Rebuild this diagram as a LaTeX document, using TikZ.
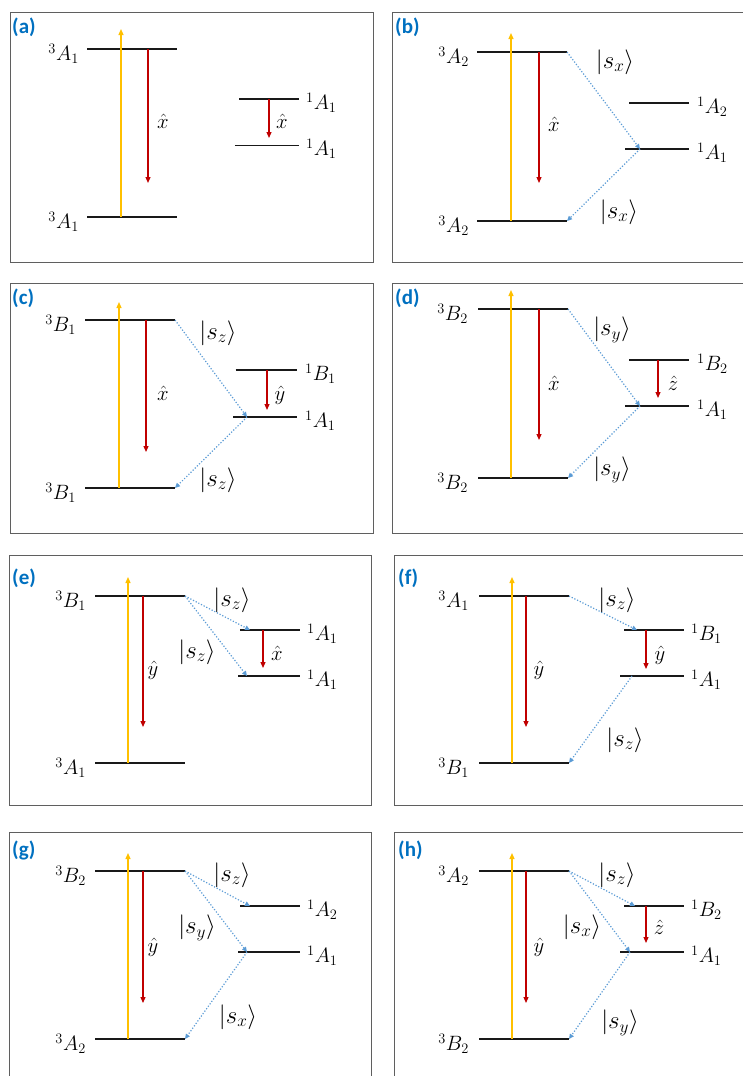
\documentclass[tikz,border=0pt]{standalone}
\usepackage{fontspec}
\usepackage{amsmath}
\usetikzlibrary{arrows.meta, positioning}
\newfontfamily\tagfont{Carlito}
\definecolor{excorange}{HTML}{FFC000}
\definecolor{emired}{HTML}{C00000}
\definecolor{iscblue}{HTML}{5B9BD5}
\definecolor{tagblue}{HTML}{0070C0}
\definecolor{framegray}{HTML}{5F5F5F}
\newcommand{\statesize}{\fontsize{21}{24}\selectfont}
\newcommand{\ketsize}{\fontsize{23}{26}\selectfont}

\begin{document}
\begin{tikzpicture}[
        x=1pt, y=-1pt,
        levline/.style={line width=1.7pt, black!90},
        lev/.style={inner sep=0, outer sep=0, minimum height=0, minimum width=#1,
            append after command={(\tikzlastnode.west) edge[levline] (\tikzlastnode.east)}},
        lev/.default=90pt,
        statel/.style={font=\statesize, inner sep=0, anchor=east},
        stater/.style={font=\statesize, inner sep=0, anchor=west},
        pol/.style={font=\statesize, inner sep=0},
        ket/.style={font=\ketsize, inner sep=0},
        exc/.style={-{Triangle[length=6pt, width=5pt]}, line width=1.3pt, excorange},
        emi/.style={-{Triangle[length=6pt, width=5pt]}, line width=1.2pt, emired},
        isc/.style={-{Triangle[length=5pt, width=4.5pt]}, dash pattern=on 1.2pt off 1.8pt, line width=1.2pt, iscblue},
        panel/.style={draw=framegray, line width=1pt},
        tag/.style={font=\tagfont\fontsize{21}{23}\selectfont\bfseries, text=tagblue, anchor=north west, inner sep=0}
    ]
        \useasboundingbox (0,0) rectangle (743,1076);

        % (a)
        \draw[panel] (10,12) rectangle (373,262);
        \node[tag] (ta) at (12,18) {(a)};
        \node[lev] (a3u) at (132,49) {};
        \node[lev] (a3l) at (132,217) {};
        \node[lev=60pt] (a1u) at (269,99) {};
        \node[inner sep=0, minimum width=64pt, append after command={(\tikzlastnode.west) edge[line width=1pt, black!90] (\tikzlastnode.east)}] (a1l) at (267,145) {};
        \node[statel] (a3uL) at (79,54) {$^3A_1$};
        \node[statel] (a3lL) at (79,222) {$^3A_1$};
        \node[stater] (a1uL) at (306,103) {$^1A_1$};
        \node[stater] (a1lL) at (306,149) {$^1A_1$};
        \coordinate (aO) at (121,29);
        \coordinate (aR) at (148,183);
        \coordinate (aR2) at (269,138);
        \draw[exc] (aO |- a3l) -- (aO);
        \draw[emi] (aR |- a3u) -- (aR);
        \draw[emi] (aR2 |- a1u) -- (aR2);
        \node[pol] (aP) at (163,121) {$\hat{x}$};
        \node[pol] (aP2) at (282,121) {$\hat{x}$};

        % (b)
        \draw[panel] (392,12) rectangle (760,262);
        \node[tag] (tb) at (395,18) {(b)};
        \node[lev] (b3u) at (522,52) {};
        \node[lev] (b3l) at (522,221) {};
        \node[lev=60pt] (b2u) at (659,103) {};
        \node[lev=64pt] (b1l) at (657,149) {};
        \node[statel] (b3uL) at (469,57) {$^3A_2$};
        \node[statel] (b3lL) at (469,226) {$^3A_2$};
        \node[stater] (b2uL) at (697,107) {$^1A_2$};
        \node[stater] (b1lL) at (697,153) {$^1A_1$};
        \coordinate (bO) at (511,33);
        \coordinate (bR) at (539,183);
        \coordinate (bS) at (640,149);
        \draw[exc] (bO |- b3l) -- (bO);
        \draw[emi] (bR |- b3u) -- (bR);
        \draw[isc] (b3u.east) -- (bS);
        \draw[isc] (bS) -- (b3l.east);
        \node[pol] (bP) at (554,124) {$\hat{x}$};
        \node[ket] (bK1) at (615,62) {$|s_x\rangle$};
        \node[ket] (bK2) at (619,212) {$|s_x\rangle$};

        % (c)
        \draw[panel] (10,283) rectangle (373,533);
        \node[tag] (tc) at (12,289) {(c)};
        \node[lev] (c3u) at (130,320) {};
        \node[lev] (c3l) at (130,488) {};
        \node[lev=61pt] (c1u) at (266,370) {};
        \node[lev=64pt] (c1l) at (265,417) {};
        \node[statel] (c3uL) at (76,325) {$^3B_1$};
        \node[statel] (c3lL) at (76,493) {$^3B_1$};
        \node[stater] (c1uL) at (305,374) {$^1B_1$};
        \node[stater] (c1lL) at (305,421) {$^1A_1$};
        \coordinate (cO) at (119,302);
        \coordinate (cR) at (146,452);
        \coordinate (cR2) at (267,410);
        \coordinate (cS) at (247,417);
        \draw[exc] (cO |- c3l) -- (cO);
        \draw[emi] (cR |- c3u) -- (cR);
        \draw[emi] (cR2 |- c1u) -- (cR2);
        \draw[isc] (c3u.east) -- (cS);
        \draw[isc] (cS) -- (c3l.east);
        \node[pol] (cP) at (163,393) {$\hat{x}$};
        \node[pol] (cP2) at (280,395) {$\hat{y}$};
        \node[ket] (cK1) at (218,333) {$|s_z\rangle$};
        \node[ket] (cK2) at (218,480) {$|s_z\rangle$};

        % (d)
        \draw[panel] (392,283) rectangle (760,533);
        \node[tag] (td) at (395,289) {(d)};
        \node[lev] (d3u) at (523,309) {};
        \node[lev] (d3l) at (523,478) {};
        \node[lev=60pt] (d2u) at (659,360) {};
        \node[lev=64pt] (d1l) at (657,406) {};
        \node[statel] (d3uL) at (468,314) {$^3B_2$};
        \node[statel] (d3lL) at (468,483) {$^3B_2$};
        \node[stater] (d2uL) at (697,364) {$^1B_2$};
        \node[stater] (d1lL) at (697,410) {$^1A_1$};
        \coordinate (dO) at (511,290);
        \coordinate (dR) at (539,440);
        \coordinate (dR2) at (658,398);
        \coordinate (dS) at (640,406);
        \draw[exc] (dO |- d3l) -- (dO);
        \draw[emi] (dR |- d3u) -- (dR);
        \draw[emi] (dR2 |- d2u) -- (dR2);
        \draw[isc] (d3u.east) -- (dS);
        \draw[isc] (dS) -- (d3l.east);
        \node[pol] (dP) at (554,383) {$\hat{x}$};
        \node[pol] (dP2) at (673,383) {$\hat{z}$};
        \node[ket] (dK1) at (612,330) {$|s_y\rangle$};
        \node[ket] (dK2) at (612,470) {$|s_y\rangle$};

        % (e)
        \draw[panel] (9,555) rectangle (371,805);
        \node[tag] (te) at (12,569) {(e)};
        \node[lev] (e3u) at (140,596) {};
        \node[lev] (e3l) at (140,763) {};
        \node[lev=60pt] (e1u) at (270,630) {};
        \node[lev=62pt] (e1l) at (269,676) {};
        \node[statel] (e3uL) at (86,601) {$^3B_1$};
        \node[statel] (e3lL) at (86,768) {$^3A_1$};
        \node[stater] (e1uL) at (307,634) {$^1A_1$};
        \node[stater] (e1lL) at (307,680) {$^1A_1$};
        \coordinate (eO) at (128,577);
        \coordinate (eR) at (143,727);
        \coordinate (eR2) at (263,668);
        \coordinate (eS1) at (250,630);
        \coordinate (eS2) at (247,676);
        \draw[exc] (eO |- e3l) -- (eO);
        \draw[emi] (eR |- e3u) -- (eR);
        \draw[emi] (eR2 |- e1u) -- (eR2);
        \draw[isc] (e3u.east) -- (eS1);
        \draw[isc] (e3u.east) -- (eS2);
        \node[pol] (eP) at (153,670) {$\hat{y}$};
        \node[pol] (eP2) at (277,653) {$\hat{x}$};
        \node[ket] (eK1) at (232,600) {$|s_z\rangle$};
        \node[ket] (eK2) at (197,652) {$|s_z\rangle$};

        % (f)
        \draw[panel] (394,555) rectangle (760,805);
        \node[tag] (tf) at (398,569) {(f)};
        \node[lev] (f3u) at (524,596) {};
        \node[lev] (f3l) at (524,763) {};
        \node[lev=60pt] (f1u) at (654,630) {};
        \node[lev=64pt] (f1l) at (652,676) {};
        \node[statel] (f3uL) at (469,601) {$^3A_1$};
        \node[statel] (f3lL) at (469,768) {$^3B_1$};
        \node[stater] (f1uL) at (691,634) {$^1B_1$};
        \node[stater] (f1lL) at (691,680) {$^1A_1$};
        \coordinate (fO) at (512,577);
        \coordinate (fR) at (526,727);
        \coordinate (fR2) at (646,669);
        \coordinate (fS1) at (637,630);
        \coordinate (fS2) at (632,676);
        \draw[exc] (fO |- f3l) -- (fO);
        \draw[emi] (fR |- f3u) -- (fR);
        \draw[emi] (fR2 |- f1u) -- (fR2);
        \draw[isc] (f3u.east) -- (fS1);
        \draw[isc] (fS2) -- (f3l.east);
        \node[pol] (fP) at (539,670) {$\hat{y}$};
        \node[pol] (fP2) at (660,655) {$\hat{y}$};
        \node[ket] (fK1) at (617,600) {$|s_z\rangle$};
        \node[ket] (fK2) at (625,740) {$|s_z\rangle$};

        % (g)
        \draw[panel] (9,832) rectangle (371,1090);
        \node[tag] (tg) at (12,841) {(g)};
        \node[lev] (g3u) at (140,871) {};
        \node[lev] (g3l) at (140,1039) {};
        \node[lev=60pt] (g2u) at (270,906) {};
        \node[lev=62pt] (g1l) at (269,952) {};
        \node[statel] (g3uL) at (86,876) {$^3B_2$};
        \node[statel] (g3lL) at (86,1044) {$^3A_2$};
        \node[stater] (g2uL) at (307,910) {$^1A_2$};
        \node[stater] (g1lL) at (307,956) {$^1A_1$};
        \coordinate (gO) at (128,853);
        \coordinate (gR) at (143,1003);
        \coordinate (gS1) at (250,906);
        \coordinate (gS2) at (247,952);
        \draw[exc] (gO |- g3l) -- (gO);
        \draw[emi] (gR |- g3u) -- (gR);
        \draw[isc] (g3u.east) -- (gS1);
        \draw[isc] (g3u.east) -- (gS2);
        \draw[isc] (gS2) -- (g3l.east);
        \node[pol] (gP) at (153,947) {$\hat{y}$};
        \node[ket] (gK1) at (232,875) {$|s_z\rangle$};
        \node[ket] (gK2) at (197,928) {$|s_y\rangle$};
        \node[ket] (gK3) at (238,1017) {$|s_x\rangle$};

        % (h)
        \draw[panel] (394,832) rectangle (760,1090);
        \node[tag] (th) at (398,841) {(h)};
        \node[lev] (h3u) at (524,871) {};
        \node[lev] (h3l) at (524,1039) {};
        \node[lev=60pt] (h2u) at (654,906) {};
        \node[lev=64pt] (h1l) at (652,952) {};
        \node[statel] (h3uL) at (469,876) {$^3A_2$};
        \node[statel] (h3lL) at (469,1044) {$^3B_2$};
        \node[stater] (h2uL) at (691,910) {$^1B_2$};
        \node[stater] (h1lL) at (691,956) {$^1A_1$};
        \coordinate (hO) at (512,853);
        \coordinate (hR) at (526,1003);
        \coordinate (hR2) at (646,943);
        \coordinate (hS1) at (635,906);
        \coordinate (hS2) at (630,952);
        \draw[exc] (hO |- h3l) -- (hO);
        \draw[emi] (hR |- h3u) -- (hR);
        \draw[emi] (hR2 |- h2u) -- (hR2);
        \draw[isc] (h3u.east) -- (hS1);
        \draw[isc] (h3u.east) -- (hS2);
        \draw[isc] (hS2) -- (h3l.east);
        \node[pol] (hP) at (539,947) {$\hat{y}$};
        \node[pol] (hP2) at (659,927) {$\hat{z}$};
        \node[ket] (hK1) at (617,875) {$|s_z\rangle$};
        \node[ket] (hK2) at (582,927) {$|s_x\rangle$};
        \node[ket] (hK3) at (620,1023) {$|s_y\rangle$};

    \end{tikzpicture}
\end{document}
